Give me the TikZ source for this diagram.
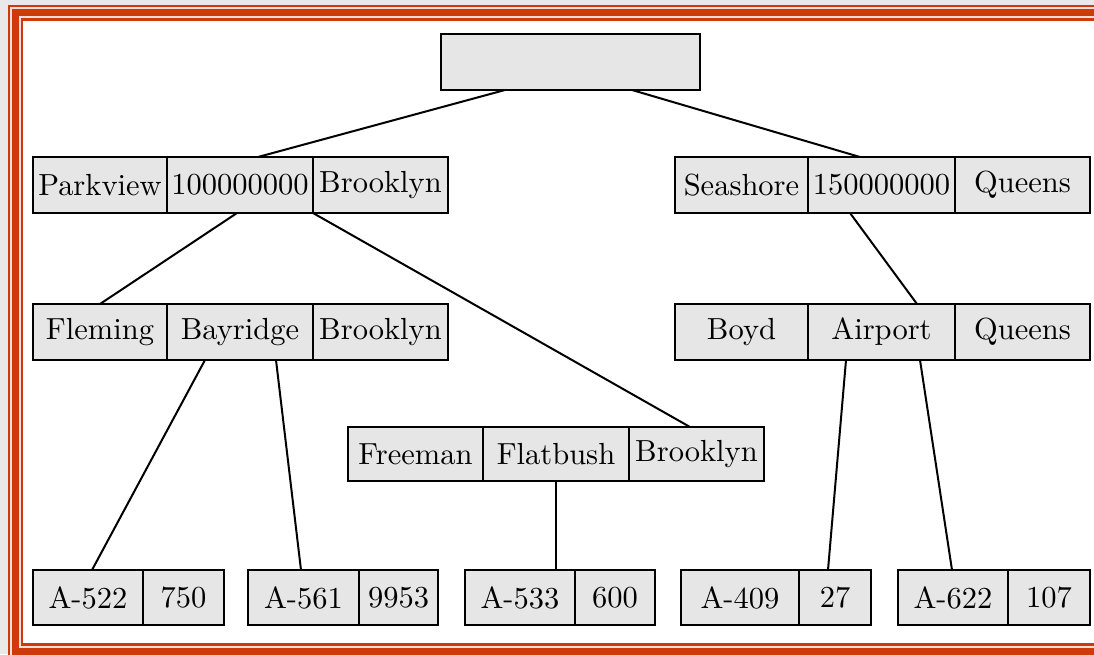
\documentclass[tikz,border=0pt]{standalone}
\usepackage{fontspec}
\setmainfont{lmroman10-regular.otf}
\usetikzlibrary{positioning}
\definecolor{pagegray}{HTML}{E9E9E9}
\definecolor{framered}{HTML}{CF3A0B}
\definecolor{framelight}{HTML}{F2DED8}
\definecolor{boxgray}{HTML}{E6E6E6}
\begin{document}
\begin{tikzpicture}[x=1pt,y=-1pt,
  cell/.style={draw=black, fill=boxgray, line width=2.4pt, anchor=north west,
    minimum height=56pt, inner sep=0pt, outer sep=0pt,
    font=\fontsize{30.5}{36}\selectfont},
  link/.style={draw=black, line width=2pt}]
% page and frame
\useasboundingbox (0,0) rectangle (1094,654);
\fill[pagegray] (0,0) rectangle (1094,654);
\fill[framered] (8,5) rectangle (1110,670);
\fill[framelight] (10,7) rectangle (1108,668);
\fill[framered] (12,9) rectangle (1106,656);
\fill[framelight] (19,16) rectangle (1104,648);
\fill[framered] (21,18) rectangle (1102,646);
\fill[white] (23,21) rectangle (1100,643);

% root
\node[cell, minimum width=259pt] (root) at (441,34) {};

% second level
\node[cell, minimum width=134pt] (pk1) at (33,157) {Parkview};
\node[cell, minimum width=146pt] (pk2) at (167,157) {100000000};
\node[cell, minimum width=135pt] (pk3) at (313,157) {Brooklyn};
\node[cell, minimum width=133pt] (se1) at (675,157) {Seashore};
\node[cell, minimum width=147pt] (se2) at (808,157) {150000000};
\node[cell, minimum width=135pt] (se3) at (955,157) {Queens};

% third level
\node[cell, minimum width=134pt] (fl1) at (33,304) {Fleming};
\node[cell, minimum width=146pt] (fl2) at (167,304) {Bayridge};
\node[cell, minimum width=135pt] (fl3) at (313,304) {Brooklyn};
\node[cell, minimum width=133pt] (bo1) at (675,304) {Boyd};
\node[cell, minimum width=147pt] (bo2) at (808,304) {Airport};
\node[cell, minimum width=135pt] (bo3) at (955,304) {Queens};
\node[cell, minimum width=135pt, minimum height=54pt] (fr1) at (348,427) {Freeman};
\node[cell, minimum width=146pt, minimum height=54pt] (fr2) at (483,427) {Flatbush};
\node[cell, minimum width=135pt, minimum height=54pt] (fr3) at (629,427) {Brooklyn};

% leaves
\node[cell, minimum width=110pt, minimum height=55pt] (a1) at (33,570) {A-522};
\node[cell, minimum width=81pt,  minimum height=55pt] (b1) at (143,570) {750};
\node[cell, minimum width=111pt, minimum height=55pt] (a2) at (248,570) {A-561};
\node[cell, minimum width=79pt,  minimum height=55pt] (b2) at (359,570) {9953};
\node[cell, minimum width=110pt, minimum height=55pt] (a3) at (465,570) {A-533};
\node[cell, minimum width=80pt,  minimum height=55pt] (b3) at (575,570) {600};
\node[cell, minimum width=118pt, minimum height=55pt] (a4) at (681,570) {A-409};
\node[cell, minimum width=72pt,  minimum height=55pt] (b4) at (799,570) {27};
\node[cell, minimum width=110pt, minimum height=55pt] (a5) at (898,570) {A-622};
\node[cell, minimum width=82pt,  minimum height=55pt] (b5) at (1008,570) {107};

% tree edges
\draw[link] ([xshift=-65.5pt]root.south) -- ([xshift=18pt]pk2.north);
\draw[link] ([xshift=61.5pt]root.south) -- ([xshift=-21.5pt]se2.north);
\draw[link] ([xshift=-3pt]pk2.south) -- (fl1.north);
\draw[link] (pk3.south west) -- ([xshift=-6.5pt]fr3.north);
\draw[link] ([xshift=-31.5pt]se2.south) -- ([xshift=35.5pt]bo2.north);
\draw[link] ([xshift=-35pt]fl2.south) -- ([xshift=4pt]a1.north);
\draw[link] ([xshift=36pt]fl2.south) -- ([xshift=-2.5pt]a2.north);
\draw[link] (fr2.south) -- ([xshift=36pt]a3.north);
\draw[link] ([xshift=-35.5pt]bo2.south) -- ([xshift=-7pt]b4.north);
\draw[link] ([xshift=38.5pt]bo2.south) -- ([xshift=-1pt]a5.north);
\end{tikzpicture}
\end{document}
